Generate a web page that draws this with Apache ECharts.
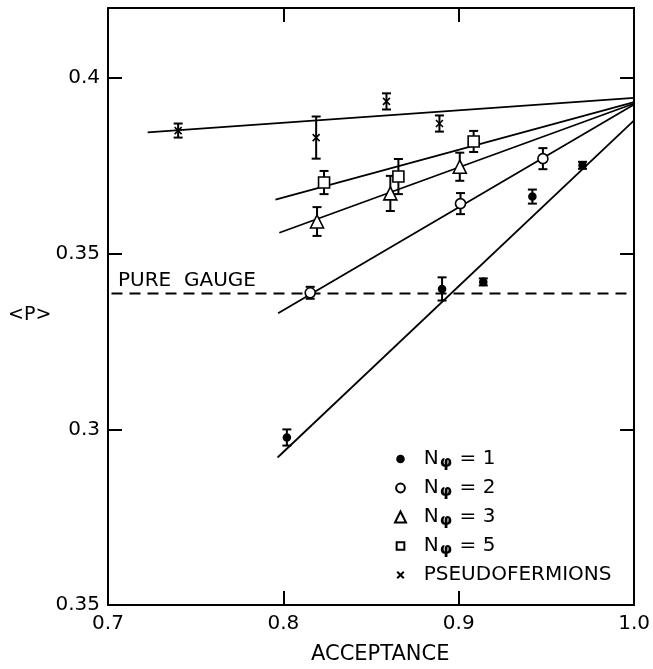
<!DOCTYPE html>
<html>
<head>
<meta charset="utf-8">
<script src="https://cdn.jsdelivr.net/npm/echarts@6/dist/echarts.min.js"></script>
<style>
  html, body { margin: 0; padding: 0; background: #fff; }
  #chart { width: 653px; height: 669px; }
</style>
</head>
<body>
<div id="chart"></div>
<script>
var xTicks = [0.7, 0.8, 0.9, 1.0];
var xTickLabels = ['0.7', '0.8', '0.9', '1.0'];
var yTicks = [0.25, 0.3, 0.35, 0.4];
var yTickLabels = ['0.35', '0.3', '0.35', '0.4'];

// [acceptance, <P>, error]
var n1Points = [[0.802, 0.2977, 0.0023], [0.8905, 0.340, 0.0033], [0.914, 0.342, 0.001], [0.942, 0.3663, 0.002], [0.9706, 0.3752, 0.001]];
var n2Points = [[0.8153, 0.3389, 0.0017], [0.901, 0.3643, 0.003], [0.948, 0.3771, 0.003]];
var n3Points = [[0.8192, 0.3592, 0.0041], [0.861, 0.3672, 0.005], [0.9006, 0.3748, 0.004]];
var n5Points = [[0.8232, 0.3703, 0.0033], [0.8656, 0.372, 0.005], [0.9085, 0.382, 0.003]];
var pseudoPoints = [[0.740, 0.3851, 0.002], [0.8187, 0.3831, 0.006], [0.8588, 0.3934, 0.0023], [0.889, 0.3871, 0.0023]];

// fitted lines, end points
var n1Fit = [[0.7967, 0.292], [1.0, 0.388]];
var n2Fit = [[0.797, 0.3331], [1.0, 0.3925]];
var n3Fit = [[0.7977, 0.356], [1.0, 0.3928]];
var n5Fit = [[0.7955, 0.3654], [1.0, 0.3932]];
var pseudoFit = [[0.7226, 0.3846], [1.0, 0.3944]];
var pureGauge = [[0.702, 0.3387], [0.997, 0.3387]];

var FONT = 'DejaVu Sans';
var chart = echarts.init(document.getElementById('chart'));

function pick(ticks, labels, v) {
    for (var i = 0; i < ticks.length; i++)
        if (Math.abs(ticks[i] - v) < 1e-6) return labels[i];
    return '';
}

function fitLine(d, z) {
    return {
        type: 'line', data: d, silent: true, symbol: 'none', z: z,
        lineStyle: { color: '#000', width: 1.8 }
    };
}

function errorBars(d) {
    return {
        type: 'custom', data: d, silent: true, z: 4,
        encode: { x: 0, y: 1 },
        renderItem: function (params, api) {
            var x = api.value(0), y = api.value(1), e = api.value(2);
            var t = api.coord([x, y + e]), b = api.coord([x, y - e]), w = 4.5;
            var st = { stroke: '#000', lineWidth: 2 };
            return {
                type: 'group', children: [
                    { type: 'line', shape: { x1: t[0], y1: t[1], x2: b[0], y2: b[1] }, style: st },
                    { type: 'line', shape: { x1: t[0] - w, y1: t[1], x2: t[0] + w, y2: t[1] }, style: st },
                    { type: 'line', shape: { x1: b[0] - w, y1: b[1], x2: b[0] + w, y2: b[1] }, style: st }
                ]
            };
        }
    };
}

function points(name, d, symbol, size, fill) {
    return {
        name: name, type: 'scatter', z: 5,
        data: d.map(function (p) { return [p[0], p[1]]; }),
        symbol: symbol, symbolSize: size,
        itemStyle: { color: fill, borderColor: '#000', borderWidth: 1.6, opacity: 1 }
    };
}

var crossPath = 'path://M0,0L10,10M10,0L0,10';

var option = {
    backgroundColor: '#fff',
    animation: false,
    grid: { left: 108, right: 15, top: 8, bottom: 64 },
    xAxis: [{
        type: 'value', min: 0.7, max: 1.0, interval: 0.1,
        axisLine: { lineStyle: { color: '#000', width: 2 } },
        axisTick: { inside: true, length: 14, lineStyle: { color: '#000', width: 2 } },
        axisLabel: {
            margin: 9, color: '#000', fontFamily: FONT, fontSize: 20,
            formatter: function (v) { return pick(xTicks, xTickLabels, v); }
        },
        splitLine: { show: false }
    }, {
        type: 'value', position: 'top', min: 0.7, max: 1.0, interval: 0.1,
        axisLine: { lineStyle: { color: '#000', width: 2 } },
        axisTick: { inside: true, length: 14, lineStyle: { color: '#000', width: 2 } },
        axisLabel: { show: false }, splitLine: { show: false }
    }],
    yAxis: [{
        type: 'value', min: 0.25, max: 0.42, interval: 0.05,
        axisLine: { lineStyle: { color: '#000', width: 2 } },
        axisTick: { inside: true, length: 14, lineStyle: { color: '#000', width: 2 } },
        axisLabel: {
            margin: 8, color: '#000', fontFamily: FONT, fontSize: 20,
            formatter: function (v) { return pick(yTicks, yTickLabels, v); }
        },
        splitLine: { show: false }
    }, {
        type: 'value', position: 'right', min: 0.25, max: 0.42, interval: 0.05,
        axisLine: { lineStyle: { color: '#000', width: 2 } },
        axisTick: { inside: true, length: 14, lineStyle: { color: '#000', width: 2 } },
        axisLabel: { show: false }, splitLine: { show: false }
    }],
    legend: {
        orient: 'vertical', left: 389, top: 444, itemGap: 7,
        itemWidth: 11, itemHeight: 11,
        data: [
            { name: 'Nφ = 1', icon: 'path://M0,0M10,10M5,2A3,3 0 1 1 4.99,2Z' },
            { name: 'Nφ = 2', icon: 'path://M0,0M10,10M5,1A4,4 0 1 1 4.99,1Z' },
            { name: 'Nφ = 3' },
            { name: 'Nφ = 5', icon: 'path://M0,0M10,10M1.5,1.5L8.5,1.5L8.5,8.5L1.5,8.5Z' },
            { name: 'PSEUDOFERMIONS', icon: 'path://M0,0M10,10M2,2L8,8M8,2L2,8' }
        ],
        selectedMode: false,
        formatter: function (name) {
            if (name.indexOf('Nφ') === 0) return '{t|  N}{s|φ}{t|' + name.slice(2) + '}';
            return '{t|  ' + name + '}';
        },
        textStyle: {
            rich: {
                t: { fontFamily: FONT, fontSize: 20, lineHeight: 24, color: '#000' },
                s: { fontFamily: FONT, fontSize: 16, fontWeight: 'bold', lineHeight: 10, verticalAlign: 'bottom', color: '#000', padding: [0, 1, 0, 1] }
            }
        }
    },
    graphic: [
        { type: 'text', left: 8, top: 306, style: { text: '<P>', fontFamily: FONT, fontSize: 19, fill: '#000' } },
        { type: 'text', left: 118, top: 271, style: { text: 'PURE  GAUGE', fontFamily: FONT, fontSize: 20, fill: '#000' } },
        { type: 'text', left: 311, top: 644, style: { text: 'ACCEPTANCE', fontFamily: FONT, fontSize: 21, fill: '#000' } }
    ],
    series: [
        {
            type: 'line', data: pureGauge, silent: true, symbol: 'none', z: 2,
            lineStyle: { color: '#000', width: 1.8, type: [11, 7] }
        },
        fitLine(pseudoFit, 3),
        fitLine(n5Fit, 3),
        fitLine(n3Fit, 3),
        fitLine(n2Fit, 3),
        fitLine(n1Fit, 3),
        errorBars(n1Points),
        errorBars(n2Points),
        errorBars(n3Points),
        errorBars(n5Points),
        errorBars(pseudoPoints),
        points('Nφ = 1', n1Points, 'circle', 7, '#000'),
        points('Nφ = 2', n2Points, 'circle', 10, '#fff'),
        points('Nφ = 3', n3Points, 'triangle', 13, '#fff'),
        points('Nφ = 5', n5Points, 'rect', 11, '#fff'),
        points('PSEUDOFERMIONS', pseudoPoints, crossPath, 7, 'rgba(0,0,0,0)')
    ]
};

chart.setOption(option);
</script>
</body>
</html>
